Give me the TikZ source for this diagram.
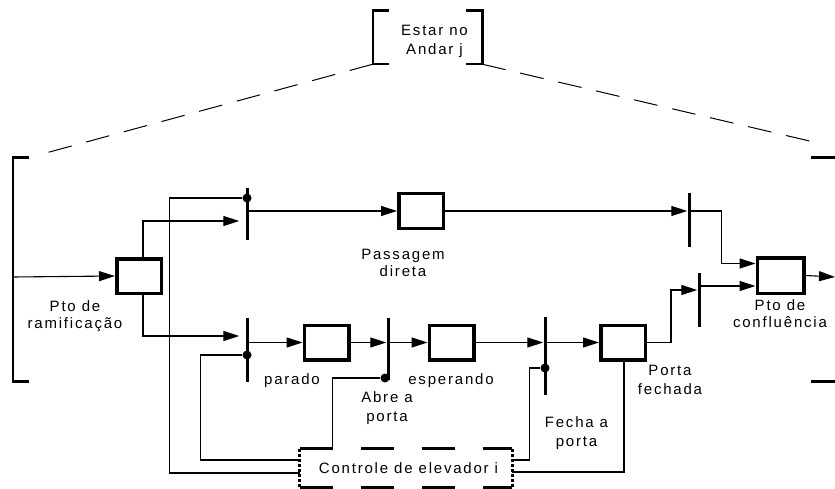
\documentclass[tikz,border=0pt]{standalone}
\usepackage{fontspec}
\setmainfont[LetterSpace=12]{Liberation Sans}
\usetikzlibrary{arrows.meta,calc}
\tikzset{
  lugar/.style={draw,line width=3.5pt,minimum width=44.5pt,minimum height=34.5pt,inner sep=0pt},
  barra/.style={fill=black,minimum width=3pt,inner sep=0pt},
  ponto/.style={circle,fill=black,minimum size=9pt,inner sep=0pt},
  arco/.style={line width=1.1pt,-{Triangle[length=16pt,width=10pt]}},
  fio/.style={line width=1.1pt},
  chave/.style={line width=2.6pt},
  rotulo/.style={align=center,inner sep=0pt,font=\fontsize{15pt}{19pt}\selectfont},
  rotulo2/.style={rotulo,font=\fontsize{15pt}{17pt}\selectfont},
  tracejado/.style={line width=1pt,dash pattern=on 24pt off 15pt},
  ctrlh/.style={line width=3pt,dash pattern=on 33pt off 28pt},
  ctrlv/.style={line width=3pt,dash pattern=on 3pt off 2pt},
}
\begin{document}
\begin{tikzpicture}[x=1pt,y=-1pt]
    \useasboundingbox (0,0) rectangle (835,489);
    % Estado superior (macro-estado)
    \node[minimum width=109pt,minimum height=53pt,inner sep=0pt] (andar) at (427.5,37.5) {};
    \node[rotulo] (landar) at (434.5,41.7) {Estar no\\Andar j};
    \draw[chave] ($(andar.north west)+(16,0)$) -- (andar.north west) -- (andar.south west) -- ++(16,0);
    \draw[chave] ($(andar.north east)+(-16,0)$) -- (andar.north east) -- (andar.south east) -- ++(-16,0);
    % Estado expandido
    \node[minimum width=825pt,minimum height=223pt,inner sep=0pt] (andarx) at (425.5,269.5) {};
    \draw[chave] ($(andarx.north west)+(16,0)$) -- (andarx.north west) -- (andarx.south west) -- ++(16,0);
    \draw[chave] ($(andarx.north east)+(-27,0)$) -- (andarx.north east) -- (andarx.south east) -- ++(-27,0);
    \draw[tracejado] (andar.south west) -- ($(andarx.north west)+(30,-4)$);
    \draw[tracejado] (andar.south east) -- ($(andarx.north east)+(-21,-15)$);
    \coordinate (entra) at (13,277);
    \coordinate (sai) at (835,277);
    % Lugares
    \node[lugar] (ram) at (139,276) {};
    \node[lugar] (direta) at (421,211) {};
    \node[lugar,minimum width=46.5pt,minimum height=35.5pt] (conf) at (780.5,275.5) {};
    \node[lugar] (parado) at (326.5,342.5) {};
    \node[lugar] (esper) at (451.5,342.5) {};
    \node[lugar] (fechada) at (623,342.5) {};
    % Transicoes
    \node[barra,minimum height=52pt] (t1) at (247,214) {};
    \node[barra,minimum height=64pt] (t2) at (247,350) {};
    \node[barra,minimum height=54pt] (t3) at (689,220) {};
    \node[barra,minimum height=62pt] (t4) at (388,349) {};
    \node[barra,minimum height=78pt] (t5) at (545,356) {};
    \node[barra,minimum height=54pt] (t6) at (699,300) {};
    % Arcos inibidores / de controle
    \node[ponto] (d1) at (247,198) {};
    \node[ponto] (d2) at (247,355) {};
    \node[ponto] (d4) at (385,378) {};
    \node[ponto] (d5) at (545,368) {};
    % Controle
    \node[minimum width=212pt,minimum height=38pt,inner sep=0pt] (ctrl) at (406,468) {};
    \node[rotulo] (lctrl) at (408.5,467.8) {Controle de elevador i};
    \draw[ctrlh] (ctrl.north west) -- (ctrl.north east);
    \draw[ctrlh] (ctrl.south west) -- (ctrl.south east);
    \draw[ctrlv] (ctrl.north west) -- (ctrl.south west);
    \draw[ctrlv] (ctrl.north east) -- (ctrl.south east);
    % Rotulos
    \node[rotulo2] (lram) at (75,316.2) {Pto de\\ramificação};
    \node[rotulo2] (ldireta) at (403,262.6) {Passagem\\direta};
    \node[rotulo2] (lconf) at (780,313.9) {Pto de\\confluência};
    \node[rotulo] (lparado) at (292,380.4) {parado};
    \node[rotulo] (lesper) at (451,380.4) {esperando};
    \node[rotulo] (labre) at (387,408.2) {Abre a\\porta};
    \node[rotulo] (lfecha) at (576.5,433.4) {Fecha a\\porta};
    \node[rotulo] (lporta) at (670,380.4) {Porta\\fechada};
    % Arcos
    \draw[arco] (entra) -- (ram.west);
    \draw[arco] ($(ram.north)+(4,0)$) |- ($(t1.west)+(-6,7)$);
    \draw[arco] ($(ram.south)+(4,0)$) |- ($(t2.west)+(-6,-14)$);
    \draw[arco] ($(t1.east)+(0,-3)$) -- (direta.west);
    \draw[arco] (direta.east) -- (t3.west |- direta.east);
    \draw[arco] (t3.east |- direta.east) -- ++(31,0) |- ($(conf.west)+(0,-12)$);
    \draw[arco] (conf.east) -- (sai);
    \draw[arco] (t2.east |- parado.west) -- (parado.west);
    \draw[arco] (parado.east) -- (t4.west |- parado.east);
    \draw[arco] (t4.east |- esper.west) -- (esper.west);
    \draw[arco] (esper.east) -- (t5.west |- esper.east);
    \draw[arco] (t5.east |- fechada.west) -- (fechada.west);
    \draw[arco] (fechada.east) -- ++(24,0) |- ($(t6.west)+(0,-10)$);
    \draw[arco] ($(t6.east)+(0,-14)$) -- ($(conf.west)+(0,10.5)$);
    % Ligacoes do controle
    \draw[fio] ($(ctrl.west)+(0,5)$) -- ++(-130,0) |- (d1);
    \draw[fio] ($(ctrl.west)+(0,-8)$) -- ++(-99,0) |- (d2);
    \draw[fio] ($(ctrl.north west)+(33,0)$) |- (d4);
    \draw[fio] ($(ctrl.east)+(0,-8)$) -- ++(17,0) |- (d5);
    \draw[fio] ($(fechada.south)+(1,0)$) |- ($(ctrl.east)+(0,4)$);
\end{tikzpicture}
\end{document}
